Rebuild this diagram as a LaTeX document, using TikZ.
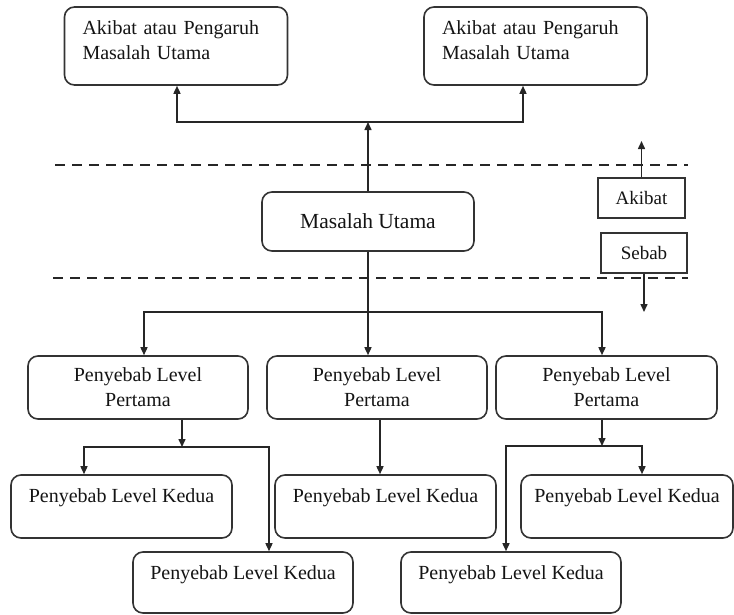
\documentclass[tikz,border=0pt]{standalone}
\usepackage{fontspec}
\setmainfont{Liberation Serif}
\usetikzlibrary{arrows.meta}
\begin{document}
\begin{tikzpicture}[x=1pt,y=-1pt,
  rbox/.style={draw=black!80, line width=1.6pt, rounded corners=10pt, inner sep=0pt, text=black!92},
  sbox/.style={draw=black!80, line width=1.6pt, inner sep=0pt, text=black!92,
    font=\fontsize{19}{23}\selectfont},
  effect/.style={rbox, minimum width=223pt, minimum height=78pt, text width=187pt, align=left,
    font=\fontsize{20}{25}\selectfont, text height=14pt, text depth=37pt},
  core/.style={rbox, minimum width=212pt, minimum height=59pt, font=\fontsize{21.5}{26}\selectfont},
  first/.style={rbox, minimum width=220pt, minimum height=63pt, align=center,
    font=\fontsize{20}{25}\selectfont},
  second/.style={rbox, minimum width=221pt, minimum height=63pt,
    font=\fontsize{20}{25}\selectfont, text height=14pt, text depth=22pt},
  secondlow/.style={second, minimum height=61pt, text depth=20pt},
  arr/.style={draw=black!85, line width=1.5pt, -{Triangle[length=8pt,width=7pt]}},
  divider/.style={draw=black!85, line width=2.6pt, dash pattern=on 10pt off 7pt},
]
\useasboundingbox (0,0) rectangle (734,614);

% effects of the main problem
\node[effect] (eff1) at (176,46) {Akibat atau Pengaruh\\Masalah Utama};
\node[effect] (eff2) at (535.5,46) {Akibat atau Pengaruh\\Masalah Utama};

% main problem
\node[core] (mu) at (368,221.5) {Masalah Utama};

% direction legend
\node[sbox, minimum width=87pt, minimum height=40pt] (ak) at (641.5,198) {Akibat};
\node[sbox, minimum width=86pt, minimum height=40pt] (sb) at (644,253) {Sebab};

% first-level causes
\node[first] (p1) at (138,387.5) {Penyebab Level\\Pertama};
\node[first] (p2) at (377,387.5) {Penyebab Level\\Pertama};
\node[first, minimum width=221pt] (p3) at (606.5,387.5) {Penyebab Level\\Pertama};

% second-level causes
\node[second] (k1) at (121.5,506.5) {Penyebab Level Kedua};
\node[second] (k2) at (385.5,506.5) {Penyebab Level Kedua};
\node[second, minimum width=212pt] (k3) at (627,506.5) {Penyebab Level Kedua};
\node[secondlow, minimum width=220pt] (k4) at (243,582.5) {Penyebab Level Kedua};
\node[secondlow, minimum width=220pt] (k5) at (511,582.5) {Penyebab Level Kedua};

% dashed separators
\draw[divider] (55,165) -- (688,165);
\draw[divider] (53,278) -- (688,278);

% main problem up to its effects
\coordinate (jt) at (368,122);
\draw[arr] (mu.north) -- (jt);
\draw[arr] (jt) -| ([xshift=1pt]eff1.south);
\draw[arr] (jt) -| ([xshift=-12.5pt]eff2.south);

% legend arrows
\coordinate (up) at (641.5,141);
\coordinate (down) at (644,312);
\draw[arr] (ak.north) -- (up);
\draw[arr] (sb.south) -- (down);

% main problem down to first-level causes
\coordinate (jb) at (368,312);
\draw[arr] (mu.south) -- (mu.south |- p2.north);
\draw[arr] (jb) -| ([xshift=6pt]p1.north);
\draw[arr] (jb) -| ([xshift=-4.5pt]p3.north);

% first-level to second-level causes
\coordinate (jl) at (182,447);
\draw[arr] ([xshift=44pt]p1.south) -- (jl);
\draw[arr] (jl) -| ([xshift=-37.5pt]k1.north);
\draw[arr] (jl) -| ([xshift=26pt]k4.north);

\draw[arr] ([xshift=3pt]p2.south) -- ([xshift=3pt]p2.south |- k2.north);

\coordinate (jr) at (602,446);
\draw[arr] ([xshift=-4.5pt]p3.south) -- (jr);
\draw[arr] (jr) -| ([xshift=15pt]k3.north);
\draw[arr] (jr) -| ([xshift=-5pt]k5.north);
\end{tikzpicture}
\end{document}
